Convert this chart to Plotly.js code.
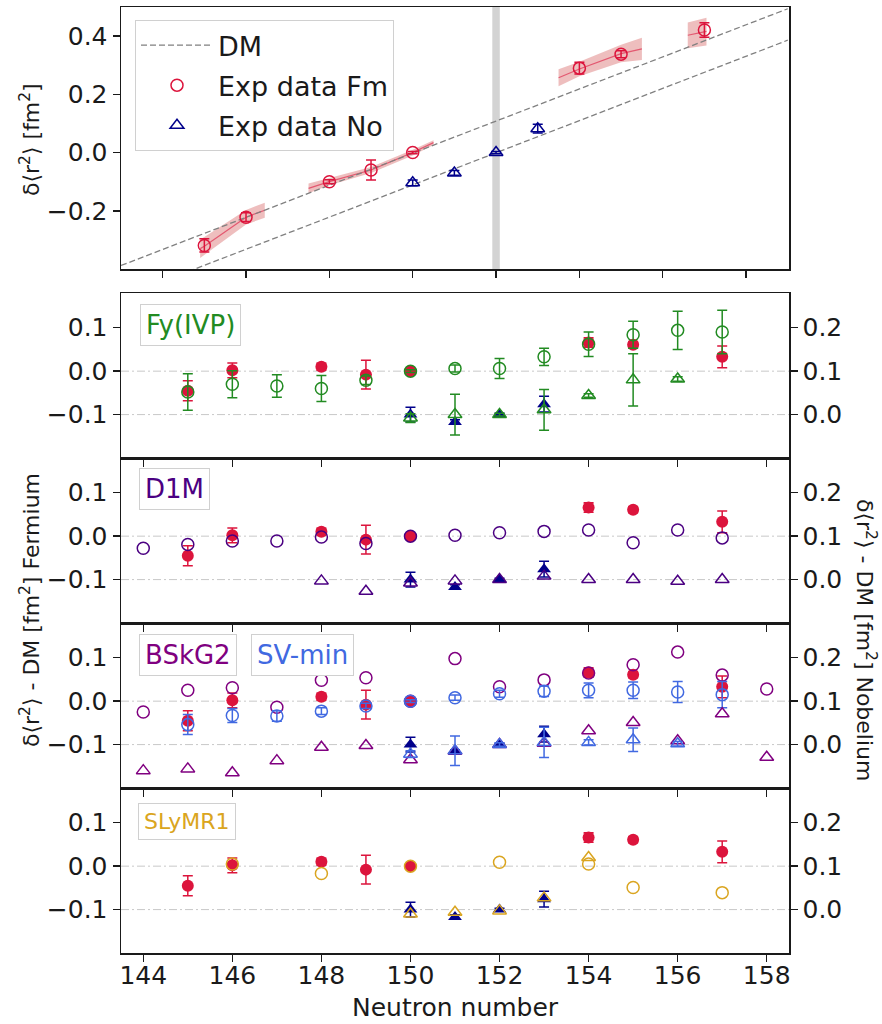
<!DOCTYPE html>
<html><head><meta charset="utf-8">
<script src="https://cdn.plot.ly/plotly-3.0.1.min.js"></script>
<style>body{margin:0;background:#fff}#chart{width:882px;height:1024px}</style>
</head><body><div id="chart"></div>
<script>
// ---------- DATA ----------
// Top panel: experimental delta<r^2>
const fmN   = [145, 146, 148, 149, 150, 154, 155, 157];
const fmR2  = [-0.319, -0.222, -0.100, -0.060, 0.000, 0.290, 0.338, 0.421];
const fmErr = [0.023, 0.015, 0.007, 0.034, 0.004, 0.020, 0.012, 0.025];
const noN   = [150, 151, 152, 153];
const noR2  = [-0.104, -0.070, 0.000, 0.082];
const noErr = [0.010, 0.008, 0.004, 0.015];
// Droplet model lines
const dmX   = [143.0, 159.0];
const dmFm  = [-0.388, 0.494];
const dmNo  = [-0.498, 0.386];
// Shaded bands around Fm data
const band1X = [144.9, 145.0, 145.5, 146.0, 146.45];
const band1Mid = [-0.330, -0.322, -0.272, -0.222, -0.198];
const band1Lo  = [-0.362, -0.354, -0.300, -0.247, -0.224];
const band1Hi  = [-0.298, -0.290, -0.244, -0.197, -0.172];
const band2X = [147.5, 148.0, 149.0, 150.0, 150.5];
const band2Mid = [-0.123, -0.100, -0.060, 0.000, 0.034];
const band2Lo  = [-0.140, -0.112, -0.070, -0.010, 0.026];
const band2Hi  = [-0.106, -0.088, -0.050, 0.010, 0.042];
const band3X = [153.5, 154.0, 155.0, 155.5];
const band3Mid = [0.257, 0.287, 0.340, 0.356];
const band3Lo  = [0.228, 0.262, 0.310, 0.318];
const band3Hi  = [0.286, 0.312, 0.370, 0.394];
const band4X = [156.6, 157.05];
const band4Mid = [0.403, 0.416];
const band4Lo  = [0.358, 0.368];
const band4Hi  = [0.447, 0.463];

// Residuals (exp - DM)
const fmRes    = [-0.045, 0.002, 0.010, -0.008, 0.000, 0.066, 0.061, 0.033];
const fmResErr = [0.023, 0.017, 0.008, 0.033, 0.005, 0.011, 0.007, 0.025];
const noRes    = [0.000, -0.017, 0.000, 0.024];
const noResErr = [0.017, 0.005, 0.003, 0.018];

// Fy(IVP)
const fyFmN   = [145, 146, 147, 148, 149, 150, 151, 152, 153, 154, 155, 156, 157];
const fyFm    = [-0.048, -0.030, -0.034, -0.040, -0.021, 0.000, 0.006, 0.006, 0.033, 0.062, 0.084, 0.094, 0.090];
const fyFmErr = [0.042, 0.031, 0.026, 0.030, 0.010, 0.003, 0.008, 0.023, 0.020, 0.028, 0.031, 0.044, 0.050];
const fyNoN   = [150, 151, 152, 153, 154, 155, 156];
const fyNo    = [-0.008, 0.000, 0.000, 0.011, 0.044, 0.080, 0.082];
const fyNoErr = [0.010, 0.047, 0.003, 0.047, 0.004, 0.060, 0.005];

// D1M
const d1mFmN = [144, 145, 146, 147, 148, 149, 150, 151, 152, 153, 154, 155, 156, 157];
const d1mFm  = [-0.028, -0.019, -0.011, -0.011, -0.002, -0.017, 0.000, 0.002, 0.008, 0.011, 0.014, -0.015, 0.014, -0.004];
const d1mNoN = [148, 149, 150, 151, 152, 153, 154, 155, 156, 157];
const d1mNo  = [-0.003, -0.027, -0.008, -0.003, 0.000, 0.008, 0.000, 0.000, -0.004, 0.000];

// BSkG2
const bskFmN = [144, 145, 146, 147, 148, 149, 150, 151, 152, 153, 154, 155, 156, 157, 158];
const bskFm  = [-0.025, 0.025, 0.031, -0.014, 0.048, 0.054, 0.000, 0.098, 0.033, 0.049, 0.065, 0.084, 0.113, 0.060, 0.028];
const bskNoN = [144, 145, 146, 147, 148, 149, 150, 151, 152, 153, 154, 155, 156, 157, 158];
const bskNo  = [-0.060, -0.056, -0.065, -0.037, -0.006, -0.002, -0.035, -0.015, 0.000, 0.003, 0.032, 0.051, 0.009, 0.071, -0.029];

// SV-min
const svFmN   = [145, 146, 147, 148, 149, 150, 151, 152, 153, 154, 155, 156, 157];
const svFm    = [-0.054, -0.033, -0.034, -0.023, -0.011, 0.000, 0.008, 0.017, 0.023, 0.025, 0.025, 0.021, 0.015];
const svFmErr = [0.023, 0.016, 0.012, 0.008, 0.006, 0.003, 0.006, 0.008, 0.012, 0.017, 0.019, 0.024, 0.030];
const svNoN   = [150, 151, 152, 153, 154, 155, 156];
const svNo    = [-0.022, -0.014, 0.000, 0.005, 0.005, 0.011, 0.002];
const svNoErr = [0.008, 0.034, 0.004, 0.035, 0.006, 0.027, 0.005];

// SLyMR1
const slyFmN = [146, 148, 150, 152, 154, 155, 157];
const slyFm  = [0.005, -0.017, 0.000, 0.009, 0.005, -0.049, -0.061];
const slyNoN = [150, 151, 152, 153, 154];
const slyNo  = [-0.010, -0.006, -0.003, 0.027, 0.120];

const xTicks = [144, 146, 148, 150, 152, 154, 156, 158];

// ---------- STYLE ----------
const FONT = 'DejaVu Sans, sans-serif';
const INK = '#1a1a1a';
const C_FM = '#DC143C', C_NO = '#00008B';
const C_FY = '#228B22', C_D1M = '#4B0082', C_BSK = '#800080', C_SV = '#4169E1', C_SLY = '#DAA520';

const traces = [];

function addBand(xs, lo, hi, mid) {
  traces.push({x: xs.concat(xs.slice().reverse()), y: hi.concat(lo.slice().reverse()),
    xaxis: 'x', yaxis: 'y', mode: 'lines', fill: 'toself', fillcolor: 'rgba(205,70,70,0.35)',
    line: {width: 0}, hoverinfo: 'skip', showlegend: false});
  traces.push({x: xs, y: mid, xaxis: 'x', yaxis: 'y', mode: 'lines',
    line: {color: 'rgba(220,20,60,0.6)', width: 1.2}, showlegend: false});
}
addBand(band1X, band1Lo, band1Hi, band1Mid);
addBand(band2X, band2Lo, band2Hi, band2Mid);
addBand(band3X, band3Lo, band3Hi, band3Mid);
addBand(band4X, band4Lo, band4Hi, band4Mid);

traces.push({x: dmX, y: dmFm, xaxis: 'x', yaxis: 'y', mode: 'lines', name: 'DM', legendgroup: 'g1',
  line: {color: '#808080', width: 1.3, dash: '6px,3px'}});
traces.push({x: dmX, y: dmNo, xaxis: 'x', yaxis: 'y', mode: 'lines', showlegend: false,
  line: {color: '#808080', width: 1.3, dash: '6px,3px'}});
traces.push({x: fmN, y: fmR2, xaxis: 'x', yaxis: 'y', mode: 'markers', name: 'Exp data Fm', legendgroup: 'g2',
  marker: {symbol: 'circle-open', size: 12, color: C_FM, line: {width: 1.5}},
  error_y: {type: 'data', array: fmErr, color: C_FM, thickness: 1.5, width: 5}});
traces.push({x: noN, y: noR2, xaxis: 'x', yaxis: 'y', mode: 'markers', name: 'Exp data No', legendgroup: 'g3',
  marker: {symbol: 'triangle-up-open', size: 12, color: C_NO, line: {width: 1.5}},
  error_y: {type: 'data', array: noErr, color: C_NO, thickness: 1.5, width: 5}});

function addPanel(i, models) {
  const xa = 'x' + i, yl = 'y' + i, yr = 'y' + (i + 4);
  traces.push({x: fmN, y: fmRes, xaxis: xa, yaxis: yl, mode: 'markers', showlegend: false,
    marker: {symbol: 'circle', size: 12, color: C_FM},
    error_y: {type: 'data', array: fmResErr, color: C_FM, thickness: 1.5, width: 5}});
  models.forEach(m => {
    const t = {x: m.fmN, y: m.fm, xaxis: xa, yaxis: yl, mode: 'markers', showlegend: false,
      marker: {symbol: 'circle-open', size: 12, color: m.c, line: {width: 1.5}}};
    if (m.fmErr) t.error_y = {type: 'data', array: m.fmErr, color: m.c, thickness: 1.5, width: 5};
    traces.push(t);
  });
  traces.push({x: noN, y: noRes, xaxis: xa, yaxis: yr, mode: 'markers', showlegend: false,
    marker: {symbol: 'triangle-up', size: 12, color: C_NO},
    error_y: {type: 'data', array: noResErr, color: C_NO, thickness: 1.5, width: 5}});
  models.forEach(m => {
    const t = {x: m.noN, y: m.no, xaxis: xa, yaxis: yr, mode: 'markers', showlegend: false,
      marker: {symbol: 'triangle-up-open', size: 12, color: m.c, line: {width: 1.5}}};
    if (m.noErr) t.error_y = {type: 'data', array: m.noErr, color: m.c, thickness: 1.5, width: 5};
    traces.push(t);
  });
}
addPanel(2, [{fmN: fyFmN, fm: fyFm, fmErr: fyFmErr, noN: fyNoN, no: fyNo, noErr: fyNoErr, c: C_FY}]);
addPanel(3, [{fmN: d1mFmN, fm: d1mFm, noN: d1mNoN, no: d1mNo, c: C_D1M}]);
addPanel(4, [{fmN: bskFmN, fm: bskFm, noN: bskNoN, no: bskNo, c: C_BSK},
             {fmN: svFmN, fm: svFm, fmErr: svFmErr, noN: svNoN, no: svNo, noErr: svNoErr, c: C_SV}]);
addPanel(5, [{fmN: slyFmN, fm: slyFm, noN: slyNoN, no: slyNo, c: C_SLY}]);

// ---------- LAYOUT ----------
const W = 882, H = 1024, ML = 121, MR = 93, MT = 7, MB = 71;
const PW = W - ML - MR, PH = H - MT - MB;
const px2x = p => (p - ML) / PW;
const py2y = p => (H - MB - p) / PH;

const axBase = {showline: true, linecolor: INK, linewidth: 1.5, ticks: 'outside', ticklen: 7,
  tickwidth: 1.5, tickcolor: INK, showgrid: false, zeroline: false,
  tickfont: {family: FONT, size: 25, color: INK}};

const layout = {
  width: W, height: H, margin: {l: ML, r: MR, t: MT, b: MB},
  paper_bgcolor: '#fff', plot_bgcolor: '#fff', font: {family: FONT, color: INK},
  showlegend: true,
  legend: {x: px2x(135), y: py2y(20), xanchor: 'left', yanchor: 'top', bgcolor: '#fff',
    bordercolor: '#d0d0d0', borderwidth: 1, font: {family: FONT, size: 27, color: INK},
    tracegroupgap: 2, traceorder: 'grouped', itemwidth: 72},
  xaxis: Object.assign({}, axBase, {domain: [0, 1], anchor: 'y', range: [143, 159.03],
    tickvals: xTicks, showticklabels: false, mirror: true}),
  yaxis: Object.assign({}, axBase, {domain: [py2y(269), 1], anchor: 'x', range: [-0.4, 0.5],
    tickvals: [-0.2, 0, 0.2, 0.4], tickformat: '.1f', mirror: true}),
  shapes: [
    {type: 'rect', xref: 'x', yref: 'y domain', x0: 151.91, x1: 152.09, y0: 0, y1: 1,
     fillcolor: '#d3d3d3', line: {width: 0}, layer: 'below'}
  ],
  annotations: []
};

const panelTops = [293, 458, 623, 788];
for (let k = 0; k < 4; k++) {
  const i = k + 2;
  const top = panelTops[k], bot = top + 165;
  const dom = [Math.max(0, py2y(bot)), py2y(top)];
  layout['xaxis' + i] = Object.assign({}, axBase, {domain: [0, 1], anchor: 'y' + i,
    range: [143.5, 158.5], tickvals: xTicks, showticklabels: i === 5, mirror: true,
    ticklabelstandoff: -8});
  layout['yaxis' + i] = Object.assign({}, axBase, {domain: dom, anchor: 'x' + i,
    range: [-0.2, 0.18], tickvals: [-0.1, 0, 0.1], tickformat: '.1f', mirror: true});
  layout['yaxis' + (i + 4)] = Object.assign({}, axBase, {overlaying: 'y' + i, side: 'right',
    anchor: 'x' + i, range: [-0.1, 0.28], tickvals: [0, 0.1, 0.2], tickformat: '.1f'});
  [0, -0.1].forEach(v => layout.shapes.push({type: 'line', xref: 'x' + i + ' domain', yref: 'y' + i,
    x0: 0, x1: 1, y0: v, y1: v, line: {color: '#c8c8c8', width: 1, dash: '8px,3px,2px,3px'}, layer: 'below'}));
}

function box(text, cx, cy, color, size) {
  layout.annotations.push({text: text, xref: 'paper', yref: 'paper', x: px2x(cx), y: py2y(cy),
    xanchor: 'center', yanchor: 'middle', showarrow: false, font: {family: FONT, size: size, color: color},
    bgcolor: '#fff', bordercolor: '#d0d0d0', borderwidth: 1, borderpad: 5});
}
box('Fy(IVP)', 190, 325, C_FY, 26);
box('D1M', 174, 489, C_D1M, 26);
box('BSkG2', 188, 655, C_BSK, 26);
box('SV-min', 302, 655, C_SV, 26);
box('SLyMR1', 187, 821, C_SLY, 22);

function label(text, cx, cy, angle, size) {
  layout.annotations.push({text: text, xref: 'paper', yref: 'paper', x: px2x(cx), y: py2y(cy),
    xanchor: 'center', yanchor: 'middle', showarrow: false, textangle: angle,
    font: {family: FONT, size: size, color: INK}});
}
label('δ⟨r<sup>2</sup>⟩ [fm<sup>2</sup>]', 30, 140, -90, 22);
label('δ⟨r<sup>2</sup>⟩ - DM [fm<sup>2</sup>] Fermium', 30, 610, -90, 22);
label('δ⟨r<sup>2</sup>⟩ - DM [fm<sup>2</sup>] Nobelium', 866, 640, 90, 22);
label('Neutron number', 455, 1007, 0, 25);

Plotly.newPlot('chart', traces, layout, {staticPlot: true, displayModeBar: false});
</script></body></html>
